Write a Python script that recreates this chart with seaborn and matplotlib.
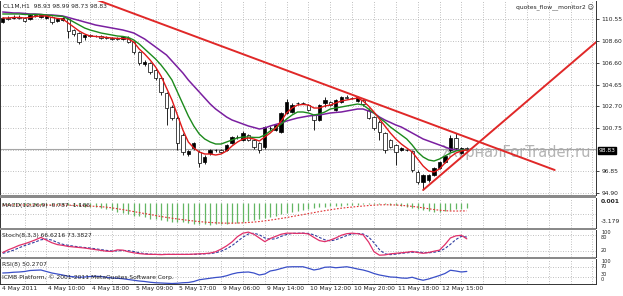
import numpy as np
import matplotlib
matplotlib.use("Agg")
import matplotlib.pyplot as plt
from matplotlib.patches import Rectangle
import seaborn as sns

sns.set_theme(style="white")
plt.rcParams['font.family'] = ['DejaVu Sans']

# ---------------- data (CL1M, H1) ----------------
opens = [110.28, 110.64, 110.64, 110.73, 110.64, 110.55, 110.91, 110.73, 110.64, 110.73,
         110.37, 110.46, 110.55, 109.56, 109.29, 108.93, 109.11, 109.02, 109.02, 108.93,
         108.84, 108.84, 108.75, 108.84, 108.48, 107.58, 106.50, 106.59, 105.96, 105.24,
         103.89, 102.63, 101.64, 100.11, 98.40, 98.94, 98.58, 97.68, 98.49, 98.76,
         98.76, 98.76, 99.39, 99.93, 99.66, 100.11, 99.66, 99.39, 99.03, 100.74,
         100.56, 100.38, 102.09, 102.18, 102.99, 102.99, 102.81, 101.91, 101.46, 102.99,
         103.08, 102.36, 103.08, 103.53, 103.44, 103.17, 103.26, 102.36, 101.73, 101.28,
         100.29, 99.66, 99.21, 98.76, 98.76, 98.67, 96.78, 95.88, 96.06, 96.51,
         97.14, 97.68, 98.76, 99.84, 98.49, 98.93]
highs = [110.73, 110.82, 110.91, 110.91, 110.73, 111.00, 111.00, 111.00, 111.00, 110.82,
         110.64, 110.73, 110.64, 109.65, 109.38, 109.20, 109.20, 109.11, 109.11, 109.02,
         108.93, 108.93, 109.02, 109.02, 108.57, 107.67, 106.86, 106.68, 106.14, 105.42,
         103.98, 102.81, 101.82, 100.29, 98.76, 99.48, 98.76, 98.31, 98.85, 98.85,
         98.85, 99.30, 100.02, 100.11, 100.47, 100.20, 99.75, 99.48, 100.92, 100.92,
         101.10, 102.18, 103.35, 102.99, 103.08, 103.08, 102.90, 102.00, 102.90, 103.53,
         103.17, 103.35, 103.62, 103.71, 103.53, 103.62, 103.35, 102.54, 101.82, 101.46,
         100.38, 99.75, 99.30, 99.03, 98.85, 98.76, 96.96, 96.60, 96.60, 97.23,
         97.77, 98.31, 100.11, 100.29, 99.03, 98.99]
lows = [110.19, 110.46, 110.55, 110.55, 110.28, 110.46, 110.73, 110.64, 110.55, 110.10,
        110.28, 110.37, 108.84, 109.02, 108.30, 108.66, 108.93, 108.93, 108.75, 108.75,
        108.66, 108.66, 108.66, 108.39, 107.40, 106.41, 106.32, 105.60, 105.06, 103.71,
        101.01, 101.46, 98.76, 98.31, 98.22, 98.76, 97.23, 97.50, 98.31, 98.58,
        98.49, 98.67, 99.30, 99.75, 99.57, 99.57, 98.85, 98.49, 98.85, 100.56,
        100.47, 100.29, 102.00, 102.09, 102.81, 102.90, 102.27, 100.56, 101.37, 102.63,
        102.72, 102.27, 102.99, 103.35, 103.35, 103.08, 102.72, 101.55, 100.56, 99.66,
        98.49, 98.94, 97.41, 98.67, 98.67, 96.78, 95.70, 95.16, 95.88, 96.42,
        97.05, 97.59, 98.58, 98.76, 98.40, 98.73]
closes = [110.64, 110.55, 110.73, 110.64, 110.37, 110.91, 110.82, 110.91, 110.91, 110.28,
          110.55, 110.64, 109.47, 109.20, 108.48, 109.11, 109.02, 108.99, 108.84, 108.84,
          108.75, 108.75, 108.93, 108.48, 107.58, 106.59, 106.68, 105.78, 105.24, 103.98,
          102.54, 101.64, 99.39, 98.58, 98.67, 99.39, 97.59, 98.13, 98.76, 98.72,
          98.58, 99.21, 99.93, 99.89, 100.29, 99.66, 99.03, 98.76, 100.83, 100.71,
          101.01, 102.09, 103.08, 102.81, 102.95, 102.95, 102.36, 101.46, 102.81, 103.26,
          102.81, 103.26, 103.53, 103.44, 103.40, 103.53, 102.90, 101.64, 100.74, 100.38,
          98.76, 99.03, 98.58, 98.94, 98.72, 96.96, 95.88, 96.51, 96.51, 97.14,
          97.68, 98.22, 99.84, 98.94, 98.94, 98.83]

ma_red = [110.64, 110.64, 110.69, 110.69, 110.64, 110.69, 110.78, 110.82, 110.82, 110.69,
          110.60, 110.55, 110.19, 109.83, 109.47, 109.20, 109.02, 108.98, 108.93, 108.89,
          108.84, 108.80, 108.80, 108.75, 108.48, 107.85, 107.40, 106.86, 106.23, 105.42,
          104.34, 103.26, 101.91, 100.56, 99.48, 98.94, 98.58, 98.40, 98.40, 98.31,
          98.40, 98.67, 99.12, 99.48, 99.75, 99.84, 99.75, 99.57, 99.93, 100.29,
          100.74, 101.37, 102.09, 102.54, 102.81, 102.86, 102.81, 102.54, 102.54, 102.72,
          102.81, 102.99, 103.17, 103.26, 103.35, 103.44, 103.17, 102.72, 102.18, 101.55,
          100.92, 100.29, 99.75, 99.30, 98.94, 98.58, 97.95, 97.32, 96.87, 96.78,
          97.05, 97.59, 98.13, 98.49, 98.67, 98.76]
ma_green = [111.00, 111.00, 111.00, 111.00, 110.96, 110.96, 110.96, 110.96, 110.91, 110.87,
            110.82, 110.78, 110.55, 110.28, 110.01, 109.74, 109.56, 109.43, 109.29, 109.20,
            109.11, 109.02, 108.98, 108.89, 108.66, 108.30, 107.85, 107.40, 106.95, 106.41,
            105.78, 105.06, 103.98, 102.90, 101.82, 100.92, 100.20, 99.75, 99.48, 99.30,
            99.30, 99.48, 99.66, 99.84, 99.93, 99.93, 99.89, 99.89, 100.11, 100.47,
            100.74, 101.10, 101.55, 101.91, 102.18, 102.18, 102.09, 101.91, 102.00, 102.18,
            102.45, 102.54, 102.63, 102.72, 102.81, 102.90, 102.81, 102.45, 102.09, 101.64,
            101.28, 100.83, 100.47, 100.11, 99.75, 99.21, 98.58, 98.13, 97.86, 97.77,
            97.95, 98.22, 98.49, 98.67, 98.76, 98.76]
ma_purple = [111.18, 111.14, 111.09, 111.09, 111.05, 111.00, 111.00, 110.96, 110.91, 110.91,
             110.87, 110.82, 110.69, 110.55, 110.42, 110.28, 110.15, 110.01, 109.92, 109.83,
             109.74, 109.65, 109.56, 109.43, 109.29, 109.02, 108.75, 108.39, 108.03, 107.67,
             107.31, 106.77, 106.23, 105.69, 105.06, 104.52, 103.98, 103.44, 102.90, 102.45,
             102.09, 101.73, 101.46, 101.28, 101.10, 100.92, 100.79, 100.65, 100.74, 100.92,
             101.06, 101.19, 101.37, 101.51, 101.64, 101.73, 101.82, 101.87, 101.91, 102.00,
             102.09, 102.14, 102.18, 102.27, 102.36, 102.45, 102.45, 102.27, 102.09, 101.73,
             101.46, 101.24, 101.01, 100.83, 100.56, 100.29, 100.02, 99.75, 99.57, 99.39,
             99.21, 99.03, 98.85, 98.76, 98.76, 98.76]

macd_hist = [-0.25, -0.25, -0.25, -0.25, -0.3, -0.3, -0.3, -0.3, -0.3, -0.3,
             -0.3, -0.3, -0.35, -0.4, -0.5, -0.55, -0.6, -0.65, -0.7, -0.9,
             -1.1, -1.35, -1.5, -1.65, -1.85, -1.95, -2.1, -2.3, -2.4, -2.55,
             -2.7, -2.75, -2.8, -2.85, -2.95, -3.05, -3.1, -3.15, -3.179, -3.15,
             -3.1, -3.05, -3.0, -2.9, -2.8, -2.7, -2.55, -2.4, -2.2, -2.05,
             -1.85, -1.7, -1.55, -1.4, -1.25, -1.1, -0.9, -0.75, -0.65, -0.55,
             -0.5, -0.45, -0.4, -0.35, -0.3, -0.25, -0.2, -0.15, -0.1, -0.1,
             -0.15, -0.25, -0.35, -0.45, -0.55, -0.7, -0.9, -1.05, -1.2, -1.3,
             -1.3, -1.25, -1.1, -0.95, -0.85, -0.787]
macd_signal = [-0.3, -0.3, -0.3, -0.3, -0.3, -0.3, -0.3, -0.3, -0.3, -0.3,
               -0.3, -0.3, -0.32, -0.34, -0.37, -0.4, -0.45, -0.5, -0.55, -0.62,
               -0.72, -0.85, -0.98, -1.12, -1.27, -1.42, -1.56, -1.7, -1.85, -2.0,
               -2.13, -2.25, -2.36, -2.47, -2.57, -2.66, -2.75, -2.82, -2.88, -2.93,
               -2.96, -2.98, -2.98, -2.96, -2.93, -2.88, -2.82, -2.74, -2.64, -2.53,
               -2.41, -2.28, -2.15, -2.0, -1.86, -1.72, -1.57, -1.42, -1.27, -1.13,
               -1.0, -0.88, -0.77, -0.68, -0.6, -0.52, -0.45, -0.38, -0.32, -0.28,
               -0.26, -0.27, -0.3, -0.35, -0.42, -0.5, -0.6, -0.72, -0.85, -0.97,
               -1.07, -1.14, -1.18, -1.19, -1.18, -1.166]

stoch_main = [15, 25, 33, 42, 48, 55, 63, 72, 62, 52,
              45, 42, 38, 36, 34, 32, 29, 26, 23, 20,
              19, 25, 24, 18, 14, 11, 9, 8, 8, 7,
              8, 8, 8, 8, 8, 9, 10, 11, 13, 18,
              28, 40, 55, 75, 88, 92, 84, 70, 56, 68,
              76, 84, 88, 88, 87, 88, 85, 72, 60, 56,
              62, 70, 80, 86, 88, 86, 82, 55, 18, 5,
              6, 10, 12, 14, 16, 19, 15, 12, 15, 20,
              24, 45, 70, 78, 80, 66.62]
stoch_signal = [12, 17, 24, 33, 41, 48, 55, 63, 66, 62,
                53, 46, 42, 39, 36, 34, 32, 29, 26, 23,
                21, 21, 23, 22, 19, 14, 11, 9, 8, 8,
                8, 8, 8, 8, 8, 8, 9, 10, 11, 14,
                20, 29, 41, 57, 73, 85, 88, 82, 70, 65,
                67, 76, 83, 87, 88, 88, 87, 82, 72, 63,
                59, 63, 71, 79, 85, 87, 85, 74, 52, 26,
                10, 7, 9, 12, 14, 16, 17, 15, 14, 16,
                20, 30, 46, 64, 76, 73.38]
rsi = [44, 45, 47, 48, 50, 54, 55, 56, 50, 44,
       40, 36, 31, 29, 27, 28, 30, 31, 30, 27,
       24, 23, 21, 18, 15, 12, 10, 7, 5, 4,
       3, 2, 3, 5, 6, 10, 17, 20, 23, 26,
       28, 33, 40, 45, 47, 48, 44, 36, 40, 52,
       56, 62, 68, 69, 69, 69, 63, 56, 60, 67,
       68, 65, 67, 69, 65, 60, 56, 50, 42, 36,
       32, 28, 27, 24, 23, 27, 20, 15, 20, 27,
       34, 42, 55, 52, 48, 50.27]

date_labels = ["4 May 2011", "4 May 10:00", "4 May 18:00", "5 May 09:00", "5 May 17:00",
               "9 May 06:00", "9 May 14:00", "10 May 12:00", "10 May 20:00",
               "11 May 18:00", "12 May 15:00"]
price_ticks = [110.55, 108.60, 106.60, 104.65, 102.70, 100.75, 96.85, 94.90]
price_grid = [110.55, 108.60, 106.60, 104.65, 102.70, 100.75, 98.80, 96.85, 94.90]
last_price = 98.83
# trend lines drawn by the trader: (bar, price) anchors
trend_down = [(12, 113.23), (101.1, 96.96)]
trend_up = [(77.0, 95.16), (112, 109.86)]

# ---------------- layout ----------------
W, H = 623, 296
fig = plt.figure(figsize=(W / 100, H / 100), dpi=100)
fig.patch.set_facecolor("white")

def ax_px(x0, y0, x1, y1):
    return fig.add_axes([x0 / W, 1 - y1 / H, (x1 - x0) / W, (y1 - y0) / H])

def ftext(xp, yp, s, **kw):
    kw.setdefault("fontsize", 4.3)
    kw.setdefault("va", "center")
    kw.setdefault("color", "#222222")
    return fig.text(xp / W, 1 - yp / H, s, **kw)

X0, DX = 2.7, 5.46
RIGHT = 596
xlim = ((0 - X0) / DX, (RIGHT - X0) / DX)
xs = np.arange(len(closes))

GRID = dict(color="#b8b8b8", lw=0.6, ls=(0, (1.2, 1.8)), zorder=0.8)

ax_main = ax_px(0, 0.5, RIGHT, 195)
ax_macd = ax_px(0, 197.5, RIGHT, 227.5)
ax_sto = ax_px(0, 230, RIGHT, 256.5)
ax_rsi = ax_px(0, 259, RIGHT, 284)

for ax in (ax_main, ax_macd, ax_sto, ax_rsi):
    ax.set_xlim(*xlim)
    ax.set_facecolor("white")
    for k in range(1, 28):
        ax.axvline(4 * k, **GRID)
    ax.set_xticks([])
    for s in ax.spines.values():
        s.set_color("#333333")
        s.set_linewidth(0.7)
    ax.spines["top"].set_visible(False)
    ax.grid(False)

# ---------------- main price panel ----------------
ax_main.set_ylim(112.26 - 0.09 * 195, 112.26 - 0.09 * 0.5)
for lv in price_grid:
    ax_main.axhline(lv, **GRID)
ax_main.axhline(last_price, color="#a6a6a6", lw=0.8, zorder=1)

ax_main.text(442 / W, 1 - 152 / H, "ЖурналForTrader.ru", transform=fig.transFigure,
             fontsize=10.5, color="#b4b4b4", va="center", ha="left", zorder=0.9)

o = np.array(opens); c = np.array(closes); h = np.array(highs); l = np.array(lows)
ax_main.vlines(xs, l, h, color="black", lw=0.6, zorder=3)
bull = c >= o
body_lo = np.minimum(o, c)
body_h = np.maximum(np.abs(c - o), 0.04)
ax_main.bar(xs[bull], body_h[bull], bottom=body_lo[bull], width=0.62,
            color="black", edgecolor="black", linewidth=0.5, zorder=4)
ax_main.bar(xs[~bull], body_h[~bull], bottom=body_lo[~bull], width=0.62,
            color="white", edgecolor="black", linewidth=0.5, zorder=4)

sns.lineplot(x=xs, y=ma_purple, ax=ax_main, color="#7a1fa0", lw=1.1, zorder=5)
sns.lineplot(x=xs, y=ma_green, ax=ax_main, color="#1c8a1c", lw=1.0, zorder=5)
sns.lineplot(x=xs, y=ma_red, ax=ax_main, color="#e01818", lw=1.0, zorder=5)

for (xa, ya), (xb, yb) in (trend_down, trend_up):
    ax_main.plot([xa, xb], [ya, yb], color="#e02828", lw=1.4, zorder=6, clip_on=True)

ax_main.yaxis.tick_right()
ax_main.set_yticks(price_ticks)
ax_main.set_yticklabels([f"{v:.2f}" for v in price_ticks], fontsize=4.3, color="#222222")
ax_main.tick_params(axis="y", length=2, width=0.6, pad=2, colors="#222222")
ax_main.set_xlabel(""); ax_main.set_ylabel("")

ftext(598.5, 150.5, "98.83", color="white", fontsize=4.3, ha="left",
      bbox=dict(boxstyle="square,pad=0.15", fc="black", ec="black"))
ftext(3, 6, "CL1M,H1  98.93 98.99 98.73 98.83", ha="left")
ftext(594, 8, "quotes_flow__monitor2 ☺", ha="right")

# ---------------- MACD ----------------
ax_macd.set_ylim(-3.62, 0.81)
ax_macd.axhline(-1.59, **GRID)
ax_macd.vlines(xs, 0, macd_hist, color="#63b663", lw=0.9, zorder=3)
sns.lineplot(x=xs, y=macd_signal, ax=ax_macd, color="#e03030", lw=0.8,
             ls=(0, (1.5, 1.5)), zorder=4)
ax_macd.set_yticks([]); ax_macd.set_xlabel(""); ax_macd.set_ylabel("")
ax_macd.text(2 / RIGHT, 0.75, "MACD(12,26,9) -0.787 -1.166", transform=ax_macd.transAxes,
             fontsize=4.3, color="#222222", va="center", ha="left", zorder=6)
ftext(601, 201.5, "0.001", fontweight="bold")
ftext(601, 221.5, "-3.179")

# ---------------- Stochastic ----------------
ax_sto.set_ylim(0, 100)
for lv in (80, 20):
    ax_sto.axhline(lv, **GRID)
sns.lineplot(x=xs, y=stoch_signal, ax=ax_sto, color="#2f3da0", lw=0.8,
             ls=(0, (2.5, 1.5)), zorder=3)
sns.lineplot(x=xs, y=stoch_main, ax=ax_sto, color="#e0306a", lw=0.9, zorder=4)
ax_sto.set_yticks([]); ax_sto.set_xlabel(""); ax_sto.set_ylabel("")
ax_sto.text(2 / RIGHT, 0.8, "Stoch(8,3,3) 66.6216 73.3827", transform=ax_sto.transAxes,
            fontsize=4.3, color="#222222", va="center", ha="left", zorder=6)
ftext(601, 232.3, "100", fontsize=3.6)
ftext(601, 237.3, "80", fontsize=3.6)
ftext(601, 250.7, "20", fontsize=3.6)

# ---------------- RSI ----------------
ax_rsi.set_ylim(0, 100)
for lv in (70, 30):
    ax_rsi.axhline(lv, **GRID)
sns.lineplot(x=xs, y=rsi, ax=ax_rsi, color="#3a4fc8", lw=0.9, zorder=4)
ax_rsi.set_yticks([]); ax_rsi.set_xlabel(""); ax_rsi.set_ylabel("")
ax_rsi.text(2 / RIGHT, 0.78, "RSI(8) 50.2707", transform=ax_rsi.transAxes,
            fontsize=4.3, color="#222222", va="center", ha="left", zorder=6)
ax_rsi.text(2 / RIGHT, 0.27, "ICMB Platform, © 2001-2011 MetaQuotes Software Corp.",
            transform=ax_rsi.transAxes, fontsize=4.3, color="#222222",
            va="center", ha="left", zorder=6)
ftext(601, 261.8, "100", fontsize=3.6)
ftext(601, 266.8, "70", fontsize=3.6)
ftext(601, 274.0, "30", fontsize=3.6)
ftext(601, 279.2, "0", fontsize=3.6)

# ---------------- separators ----------------
for y0, y1 in ((195, 197.5), (227.5, 230), (256.5, 259)):
    fig.patches.append(Rectangle((0, 1 - y1 / H), RIGHT / W, (y1 - y0) / H,
                                 transform=fig.transFigure, fc="#8a8a8a", ec="none",
                                 zorder=10))

# ---------------- date labels ----------------
for k, lab in enumerate(date_labels):
    xp = X0 + DX * 8 * k
    ftext(1.5 if k == 0 else xp + 2, 288.5, lab, ha="left")

fig.savefig("out.png", dpi=100)
